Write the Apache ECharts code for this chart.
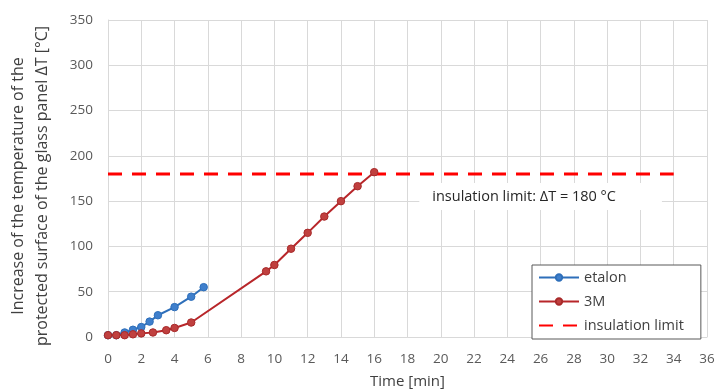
<!DOCTYPE html>
<html>
<head>
<meta charset="utf-8">
<script src="https://cdn.jsdelivr.net/npm/echarts@6/dist/echarts.min.js"></script>
<style>html,body{margin:0;padding:0;background:#fff}#c{width:715px;height:391px}</style>
</head>
<body>
<div id="c"></div>
<script>
const etalonTime = [0, 0.5, 1, 1.5, 2, 2.5, 3, 4, 5, 5.75];
const etalonDT   = [2, 2, 5, 8, 11, 17, 24, 33, 44.5, 55];
const m3Time = [0, 0.5, 1, 1.5, 2, 2.7, 3.5, 4, 5, 9.5, 10, 11, 12, 13, 14, 15, 16];
const m3DT   = [2, 2, 2, 3, 4, 5, 7.5, 10, 16, 72.5, 79.5, 97.5, 115, 133, 150, 166.5, 182];
const limitTime = [0, 34];
const limitDT = [180, 180];
const xTicks = {min: 0, max: 36, interval: 2};
const yTicks = {min: 0, max: 350, interval: 50};
const annotationText = 'insulation limit: ΔT = 180 °C';
const annotationAt = [26, 155];

const zip = (a, b) => a.map((v, i) => [v, b[i]]);
const font = '"Open Sans", "Noto Sans", sans-serif';

const chart = echarts.init(document.getElementById('c'), null, {renderer: 'canvas'});
chart.setOption({
  animation: false,
  backgroundColor: '#fff',
  textStyle: {fontFamily: font},
  grid: {left: 108, right: 8, top: 20, bottom: 54, outerBoundsMode: 'none', containLabel: false},
  xAxis: {
    type: 'value', min: xTicks.min, max: xTicks.max, interval: xTicks.interval,
    name: 'Time [min]', nameLocation: 'middle', nameGap: 37,
    nameTextStyle: {color: '#404040', fontSize: 15, fontFamily: font},
    axisLine: {show: true, lineStyle: {color: '#d9d9d9', width: 1}},
    axisTick: {show: false},
    axisLabel: {color: '#595959', fontSize: 13.5, margin: 15, fontFamily: font},
    splitLine: {show: true, lineStyle: {color: '#d9d9d9', width: 1}}
  },
  yAxis: {
    type: 'value', min: yTicks.min, max: yTicks.max, interval: yTicks.interval,
    name: 'Increase of the temperature of the\nprotected surface of the glass panel ΔT [°C]',
    nameLocation: 'middle', nameGap: 54, nameRotate: 90,
    nameTextStyle: {color: '#404040', fontSize: 16, lineHeight: 24, fontFamily: font, padding: [0, 15, 0, 0]},
    axisLine: {show: true, lineStyle: {color: '#d9d9d9', width: 1}},
    axisTick: {show: false},
    axisLabel: {color: '#595959', fontSize: 13.5, margin: 15, fontFamily: font},
    splitLine: {show: true, lineStyle: {color: '#d9d9d9', width: 1}}
  },
  legend: {
    orient: 'vertical', left: 532, top: 265,
    itemWidth: 40, itemHeight: 8, itemGap: 9,
    padding: [5, 17, 6, 6],
    borderColor: '#595959', borderWidth: 1, backgroundColor: '#fff',
    textStyle: {color: '#404040', fontSize: 14.5, fontFamily: font},
    data: ['etalon', '3M', {name: 'insulation limit', itemStyle: {opacity: 0}}]
  },
  series: [
    {
      name: 'insulation limit', type: 'line', data: zip(limitTime, limitDT),
      symbol: 'none', showSymbol: false, z: 1,
      lineStyle: {color: '#ff0000', width: 3, type: [14, 10]},
      itemStyle: {color: 'rgba(255,0,0,0)'},
      markPoint: {
        symbol: 'rect', symbolSize: 1, silent: true,
        itemStyle: {color: 'rgba(0,0,0,0)'},
        data: [{coord: annotationAt, value: 0}],
        label: {
          show: true, formatter: annotationText, position: 'inside',
          color: '#262626', fontSize: 14.5, fontFamily: font,
          backgroundColor: '#fff', padding: [6, 46, 6, 13]
        }
      }
    },
    {
      name: 'etalon', type: 'line', data: zip(etalonTime, etalonDT),
      symbol: 'circle', symbolSize: 7.5, z: 3,
      lineStyle: {color: '#2e6fba', width: 2},
      itemStyle: {color: '#3f7fcc', borderColor: '#2e6fba', borderWidth: 1}
    },
    {
      name: '3M', type: 'line', data: zip(m3Time, m3DT),
      symbol: 'circle', symbolSize: 7.5, z: 4,
      lineStyle: {color: '#b8262a', width: 2},
      itemStyle: {color: '#c0403f', borderColor: '#a82a2a', borderWidth: 1}
    }
  ]
});
</script>
</body>
</html>
